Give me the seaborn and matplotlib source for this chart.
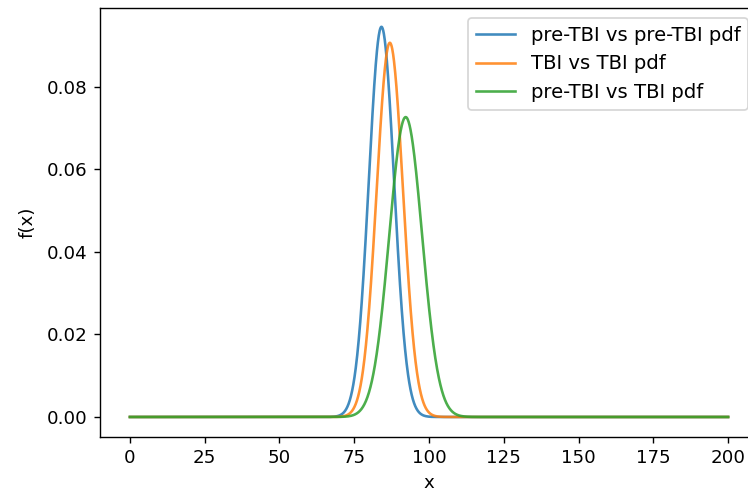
import numpy as np
import pandas as pd
import matplotlib
matplotlib.use("Agg")
import matplotlib.pyplot as plt
import seaborn as sns

# Normal-distribution parameters (peak location / peak height)
labels = ["pre-TBI vs pre-TBI pdf", "TBI vs TBI pdf", "pre-TBI vs TBI pdf"]
means = [84.1, 86.9, 92.2]
stds = [4.22, 4.40, 5.49]
colors = ["#1f77b4", "#ff7f0e", "#2ca02c"]
x_start, x_end = 0, 200
xticks = [0, 25, 50, 75, 100, 125, 150, 175, 200]
yticks = [0.00, 0.02, 0.04, 0.06, 0.08]

x = np.linspace(x_start, x_end, 2001)
frames = []
for lab, mu, sd in zip(labels, means, stds):
    y = np.exp(-0.5 * ((x - mu) / sd) ** 2) / (sd * np.sqrt(2 * np.pi))
    frames.append(pd.DataFrame({"x": x, "f(x)": y, "series": lab}))
df = pd.concat(frames, ignore_index=True)

fig = plt.figure(figsize=(748 / 125, 493 / 125), dpi=125)
ax = fig.add_axes([0.1337, 0.1136, 0.8797, 0.8702])
for lab, col in zip(labels, colors):
    sns.lineplot(data=df[df["series"] == lab], x="x", y="f(x)", color=col,
                 label=lab, ax=ax, linewidth=1.5, alpha=0.85)

ax.set_xticks(xticks)
ax.set_yticks(yticks)
ax.set_yticklabels([f"{v:.2f}" for v in yticks])
ax.tick_params(labelsize=10.5)
ax.set_xlim(-10, 210)
ax.set_ylim(-0.00485, 0.0991)
ax.set_xlabel("x", fontsize=10.5)
ax.set_ylabel("f(x)", fontsize=10.5, labelpad=6)
ax.legend(loc="upper right", fontsize=11.3)

fig.savefig("out.png", dpi=125)
